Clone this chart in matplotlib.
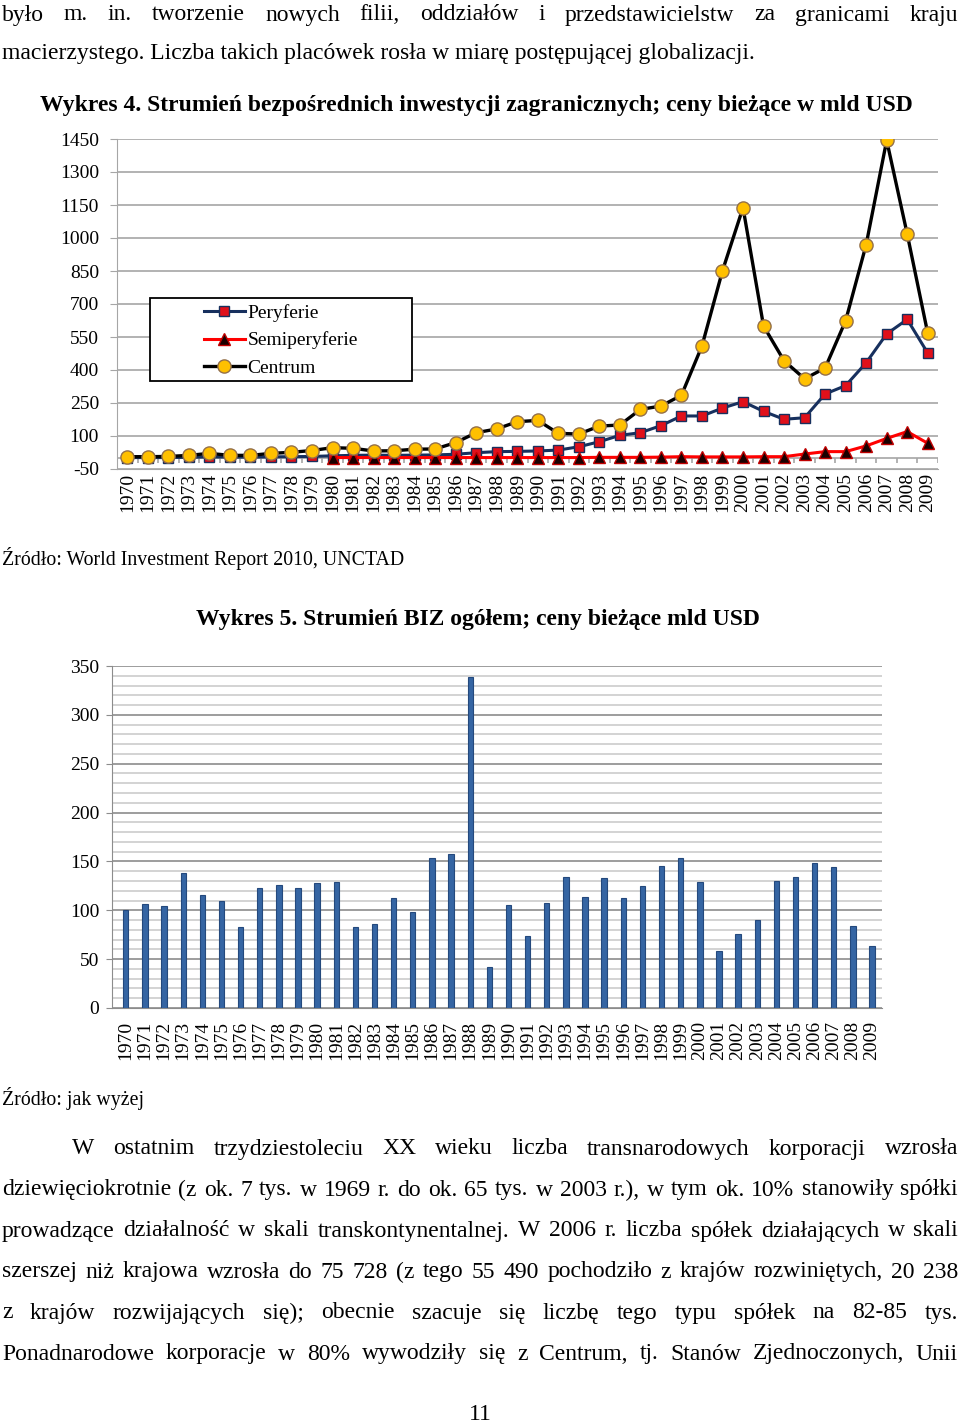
import numpy as np
import matplotlib
matplotlib.use("Agg")
import matplotlib.pyplot as plt
from matplotlib.patches import Rectangle

plt.rcParams['font.family'] = ['Liberation Serif', 'DejaVu Serif']

# dane
years = [str(y) for y in range(1970, 2010)]

centrum = [6, 6, 7, 12, 21, 12, 12, 21, 26, 34, 47, 44, 32, 33, 40, 41, 70, 115, 132, 165,
           171, 112, 109, 145, 150, 221, 236, 285, 509, 851, 1138, 600, 442, 360, 409, 624,
           970, 1444, 1018, 567]
peryferie = [2, 2, 2, 3, 5, 4, 4, 5, 6, 7, 10, 12, 13, 12, 13, 14, 17, 24, 29, 30,
             32, 36, 51, 74, 103, 115, 147, 191, 191, 227, 256, 212, 176, 183, 291, 329,
             433, 564, 630, 477]
semiperyferie = [None] * 10 + [2, 2, 2, 2, 2, 2, 2, 2, 2, 2,
                               2, 2, 2, 3, 3, 3, 4, 6, 5, 5, 5, 6, 6, 18, 29, 29,
                               55, 89, 120, 67]
biz = [100, 106, 104, 138, 116, 110, 83, 123, 126, 123, 128, 129, 83, 86, 113, 98, 154, 158,
       339, 42, 105, 74, 107, 134, 114, 133, 113, 125, 145, 153, 129, 58, 76, 90, 130, 134,
       148, 144, 84, 63]

ticks1 = [-50, 100, 250, 400, 550, 700, 850, 1000, 1150, 1300, 1450]

W, H = 960, 1425
fig = plt.figure(figsize=(W / 100, H / 100), dpi=100)
fig.patch.set_facecolor('white')


def fx(x):
    return x / W


def fy(y):
    # lekkie przesunięcie w dół dla tekstu (va='center' liczy z ogonkami)
    return 1 - y / H


FS = 17
SMALL = 14.3
TICK = 14
DY = 2
renderer = fig.canvas.get_renderer()


def justify(line, y, x0, x1, size=FS):
    words = line.split(' ')
    texts = [fig.text(0, fy(y + DY), w, fontsize=size, va='center', ha='left') for w in words]
    widths = [t.get_window_extent(renderer).width for t in texts]
    gap = (x1 - x0 - sum(widths)) / (len(words) - 1)
    x = x0
    for t, w in zip(texts, widths):
        t.set_x(fx(x))
        x += w + gap


# tekst nad wykresem
justify("było m. in. tworzenie nowych filii, oddziałów i przedstawicielstw za granicami kraju",
        13, 2, 958)
fig.text(fx(2), fy(52 + DY), "macierzystego. Liczba takich placówek rosła w miarę postępującej globalizacji.",
         fontsize=FS, va='center')
fig.text(fx(40), fy(104 + DY), "Wykres 4. Strumień bezpośrednich inwestycji zagranicznych; ceny bieżące w mld USD",
         fontsize=FS, fontweight='bold', va='center')

# wykres 4
ax1 = fig.add_axes([fx(117), fy(469), fx(938) - fx(117), fy(139) - fy(469)])
x = np.arange(len(years))
grid_c = '#a6a6a6'
ax1.set_ylim(-50, 1450)
ax1.set_xlim(-0.5, len(years) - 0.5)
ax1.set_yticks(ticks1)
ax1.set_yticklabels([str(t) for t in ticks1], fontsize=TICK)
ax1.yaxis.grid(True, color=grid_c, lw=1.2)
ax1.set_axisbelow(True)
for s in ['top', 'right']:
    ax1.spines[s].set_visible(False)
ax1.spines['left'].set_color(grid_c)
ax1.spines['bottom'].set_color(grid_c)
ax1.tick_params(axis='y', length=5, color=grid_c, pad=8)
ax1.set_xticks(x)
ax1.set_xticklabels(years, rotation=90, fontsize=TICK)
ax1.tick_params(axis='x', length=0, pad=3)
ax1.axhline(0, color=grid_c, lw=1.2, zorder=1)
ax1.vlines(np.arange(len(years) + 1) - 0.5, -25, 0, color=grid_c, lw=1.2, zorder=1)

semi = np.array([np.nan if v is None else v for v in semiperyferie], dtype=float)
l1, = ax1.plot(x, peryferie, color='#17305e', lw=2.2, marker='s', ms=7,
               mfc='#e0101a', mec='#17305e', mew=1, zorder=3)
l2, = ax1.plot(x, semi, color='#ff0000', lw=2.2, marker='^', ms=8,
               mfc='#1a0000', mec='#c00000', mew=1, zorder=3)
l3, = ax1.plot(x, centrum, color='black', lw=2.4, marker='o', ms=9.5,
               mfc='#ffc000', mec='#94704a', mew=1, zorder=4)

fig.patches.append(Rectangle((fx(150), fy(381)), fx(412) - fx(150), fy(298) - fy(381),
                             transform=fig.transFigure, fill=True, facecolor='white',
                             edgecolor='black', lw=1.3, zorder=5))
leg = fig.legend([l1, l2, l3], ['Peryferie', 'Semiperyferie', 'Centrum'],
                 loc='upper left', bbox_to_anchor=(fx(200), fy(300)), frameon=False,
                 fontsize=TICK, handlelength=2.1, handletextpad=0.15, labelspacing=0.5,
                 borderaxespad=0, borderpad=0.2)
leg.set_zorder(6)

fig.text(fx(2), fy(556 + DY), "Źródło: World Investment Report 2010, UNCTAD", fontsize=SMALL, va='center')
fig.text(fx(196), fy(617 + DY), "Wykres 5. Strumień BIZ ogółem; ceny bieżące mld USD",
         fontsize=FS, fontweight='bold', va='center')

# wykres 5
ax2 = fig.add_axes([fx(112), fy(1008), fx(882) - fx(112), fy(666) - fy(1008)])
ax2.bar(x, biz, width=0.28, color='#3565a3', edgecolor='#24497d', lw=0.8, zorder=3)
ax2.set_ylim(0, 350)
ax2.set_xlim(-0.72, len(years) - 0.48)
ax2.set_yticks(np.arange(0, 351, 50))
ax2.set_yticklabels([str(t) for t in range(0, 351, 50)], fontsize=TICK)
ax2.set_yticks(np.arange(0, 351, 10), minor=True)
ax2.yaxis.grid(True, which='minor', color='#c8c8c8', lw=1.1)
ax2.yaxis.grid(True, which='major', color='#8c8c8c', lw=1.2)
ax2.set_axisbelow(True)
for s in ['top', 'right']:
    ax2.spines[s].set_visible(False)
ax2.spines['left'].set_color('#8c8c8c')
ax2.spines['bottom'].set_color('#8c8c8c')
ax2.tick_params(axis='y', which='major', length=4, color='#8c8c8c', pad=5)
ax2.tick_params(axis='y', which='minor', length=0)
ax2.set_xticks(x)
ax2.set_xticklabels(years, rotation=90, fontsize=TICK)
ax2.tick_params(axis='x', length=0, pad=9)

fig.text(fx(2), fy(1097 + DY), "Źródło: jak wyżej", fontsize=SMALL, va='center')

# tekst pod wykresem
justify("W ostatnim trzydziestoleciu XX wieku liczba transnarodowych korporacji wzrosła",
        1147, 72, 958)
justify("dziewięciokrotnie (z ok. 7 tys. w 1969 r. do ok. 65 tys. w 2003 r.), w tym ok. 10% stanowiły spółki",
        1188, 2, 958)
justify("prowadzące działalność w skali transkontynentalnej. W 2006 r. liczba spółek działających w skali",
        1229, 2, 958)
justify("szerszej niż krajowa wzrosła do 75 728 (z tego 55 490 pochodziło z krajów rozwiniętych, 20 238",
        1270, 2, 958)
justify("z krajów rozwijających się); obecnie szacuje się liczbę tego typu spółek na 82-85 tys.",
        1311, 2, 958)
justify("Ponadnarodowe korporacje w 80% wywodziły się z Centrum, tj. Stanów Zjednoczonych, Unii",
        1352, 2, 958)
fig.text(fx(480), fy(1414), "11", fontsize=FS, va='center', ha='center')

fig.savefig("out.png", dpi=100, facecolor='white')
